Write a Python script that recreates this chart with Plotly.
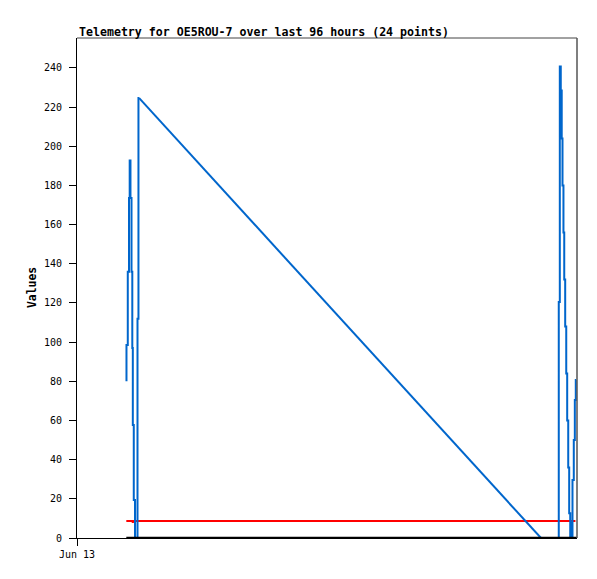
import plotly.graph_objects as go

# ---- data ----
# blue channel: dense burst near start, long ramp, dense burst near end
blue_left_times = [
    "2024-06-13 09:30", "2024-06-13 09:45", "2024-06-13 09:59", "2024-06-13 10:07",
    "2024-06-13 10:16", "2024-06-13 10:28", "2024-06-13 10:37", "2024-06-13 10:43",
    "2024-06-13 10:54", "2024-06-13 11:08", "2024-06-13 11:37", "2024-06-13 11:48",
    "2024-06-13 11:54",
]
blue_left_values = [80, 98.6, 136, 173.6, 192.7, 173.6, 136, 97, 57.7, 19.4, 0, 112, 224.7]

blue_ramp_times = ["2024-06-13 11:54", "2024-06-16 17:05"]
blue_ramp_values = [224.7, 0]

blue_right_times = [
    "2024-06-16 17:05", "2024-06-16 20:30", "2024-06-16 20:42", "2024-06-16 20:53",
    "2024-06-16 21:04", "2024-06-16 21:13", "2024-06-16 21:24", "2024-06-16 21:33",
    "2024-06-16 21:44", "2024-06-16 21:56", "2024-06-16 22:07", "2024-06-16 22:19",
    "2024-06-16 22:30", "2024-06-16 22:42", "2024-06-16 22:49", "2024-06-16 22:54",
    "2024-06-16 23:08", "2024-06-16 23:23", "2024-06-16 23:35", "2024-06-16 23:46",
    "2024-06-16 23:52",
]
blue_right_values = [0, 0, 120.5, 240.7, 228.5, 204, 180, 156, 132, 108, 84, 60,
                     36, 12.6, 0, 8, 0, 29.6, 50, 70.5, 80.7]

red_times = ["2024-06-13 09:28", "2024-06-13 10:36", "2024-06-13 10:43",
             "2024-06-13 10:54", "2024-06-16 23:42"]
red_values = [8.7, 8.7, 7.9, 8.7, 8.7]

black_times = ["2024-06-13 09:28", "2024-06-17 00:00"]
black_values = [0, 0]

x_range = ["2024-06-13 00:00", "2024-06-17 00:00"]
y_range = [0, 255.3]
y_ticks = list(range(0, 241, 20))
x_tickvals = ["2024-06-13 00:00"]
x_ticktext = ["Jun 13"]

title_text = "Telemetry for OE5ROU-7 over last 96 hours (24 points)"
y_title = "Values"

MONO = "DejaVu Sans Mono"
BLUE = "#0066cc"

fig = go.Figure()
fig.add_trace(go.Scatter(x=red_times, y=red_values, mode="lines",
                         line=dict(color="#ff0000", width=2), showlegend=False))
fig.add_trace(go.Scatter(x=blue_left_times, y=blue_left_values, mode="lines",
                         line=dict(color=BLUE, width=2, shape="vh"), showlegend=False))
fig.add_trace(go.Scatter(x=blue_ramp_times, y=blue_ramp_values, mode="lines",
                         line=dict(color=BLUE, width=2), showlegend=False))
fig.add_trace(go.Scatter(x=blue_right_times, y=blue_right_values, mode="lines",
                         line=dict(color=BLUE, width=2, shape="vh"), showlegend=False))
fig.add_trace(go.Scatter(x=black_times, y=black_values, mode="lines",
                         line=dict(color="#000000", width=2.5), showlegend=False))

fig.update_layout(
    width=589, height=571,
    margin=dict(l=69, r=20, t=30, b=41, pad=0),
    paper_bgcolor="white", plot_bgcolor="white",
    font=dict(family=MONO, size=10, color="black"),
    showlegend=False,
    xaxis=dict(
        type="date", range=x_range, tickvals=x_tickvals, ticktext=x_ticktext,
        showgrid=False, zeroline=False, showline=True, linecolor="black", linewidth=1,
        ticks="outside", ticklen=7, tickcolor="black", tickwidth=1,
        tickfont=dict(family=MONO, size=10, color="black"),
    ),
    yaxis=dict(
        range=y_range, tickvals=y_ticks,
        showgrid=False, zeroline=False, showline=True, linecolor="black", linewidth=1,
        ticks="outside", ticklen=7, tickcolor="black", tickwidth=1,
        tickfont=dict(family=MONO, size=10, color="black"),
        ticklabelstandoff=5,
    ),
    shapes=[
        dict(type="line", xref="paper", yref="paper", x0=0, x1=1, y0=1, y1=1,
             line=dict(color="#444444", width=1)),
        dict(type="line", xref="paper", yref="paper", x0=1, x1=1, y0=0, y1=1,
             line=dict(color="#555555", width=1.5)),
    ],
    annotations=[
        dict(text="<b>" + title_text + "</b>", xref="paper", yref="paper",
             x=0, y=1.013, xanchor="left", yanchor="middle", showarrow=False,
             font=dict(family=MONO, size=11.6, color="black")),
        dict(text="<b>" + y_title + "</b>", xref="paper", yref="paper",
             x=-0.09, y=0.5, xanchor="center", yanchor="middle", showarrow=False,
             textangle=-90, font=dict(family=MONO, size=11.4, color="black")),
    ],
)

fig.write_html("out.html")
